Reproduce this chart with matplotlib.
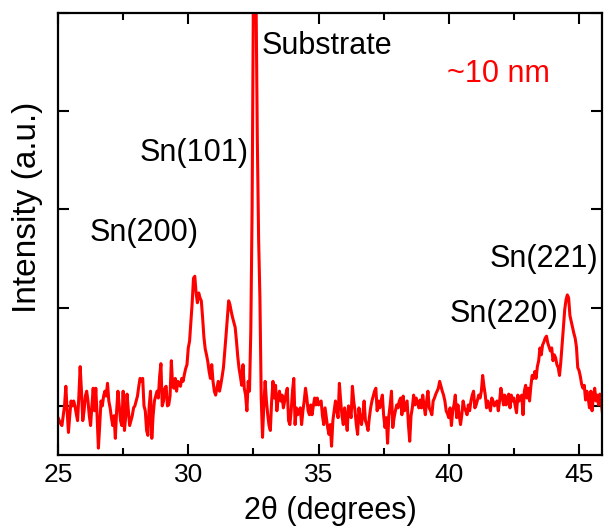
import numpy as np
import matplotlib
matplotlib.use('Agg')
import matplotlib.pyplot as plt
from matplotlib.ticker import MultipleLocator, NullFormatter

plt.rcParams['font.family'] = ['Liberation Sans', 'DejaVu Sans']

# XRD scan, 2theta from 25.00 deg in 0.05 deg steps
two_theta_start = 25.0
two_theta_step = 0.05
intensity = [
    # 25
    88, 85, 82, 80, 90, 100, 120, 95, 73, 90, 105, 100, 105, 100, 92, 85, 110, 140, 115, 85,
    # 26
    95, 110, 115, 105, 90, 80, 100, 118, 95, 118, 90, 57, 80, 105, 100, 110, 115, 110, 123, 105,
    # 27
    98, 88, 80, 90, 67, 95, 115, 100, 85, 80, 115, 75, 90, 112, 95, 80, 85, 90, 98, 100,
    # 28
    105, 110, 120, 128, 125, 128, 100, 95, 75, 70, 100, 115, 67, 90, 105, 110, 115, 108, 130, 143,
    # 29
    100, 105, 118, 120, 100, 101, 110, 146, 120, 118, 128, 115, 125, 122, 120, 128, 125, 132, 138, 142,
    # 30
    159, 166, 185, 205, 230, 232, 215, 205, 215, 210, 207, 190, 170, 158, 152, 145, 135, 128, 142, 125,
    # 31
    115, 111, 118, 125, 115, 122, 130, 139, 155, 172, 190, 207, 203, 196, 190, 185, 180, 166, 150, 138,
    # 32
    130, 121, 142, 118, 111, 95, 125, 115, 176, 300, 520, 580, 520, 372, 270, 210, 108, 68, 101, 125,
    # 33
    105, 91, 80, 75, 105, 125, 108, 121, 95, 108, 115, 105, 111, 98, 105, 112, 118, 85, 81, 95,
    # 34
    115, 128, 81, 98, 91, 95, 98, 81, 95, 105, 118, 108, 95, 91, 101, 91, 100, 108, 101, 108,
    # 35
    101, 103, 105, 90, 81, 98, 88, 78, 71, 81, 59, 85, 95, 105, 95, 88, 123, 105, 90, 81,
    # 36
    98, 88, 75, 100, 95, 88, 120, 105, 95, 81, 71, 98, 88, 81, 91, 105, 85, 81, 75, 88,
    # 37
    98, 105, 110, 115, 118, 95, 105, 98, 105, 111, 90, 78, 88, 62, 90, 101, 115, 78, 88, 95,
    # 38
    101, 98, 105, 108, 91, 110, 95, 100, 105, 81, 64, 90, 98, 111, 101, 108, 103, 98, 106, 98,
    # 39
    111, 100, 91, 105, 115, 98, 95, 91, 105, 108, 112, 115, 118, 125, 120, 115, 111, 105, 95, 92,
    # 40
    88, 98, 80, 95, 101, 111, 88, 101, 90, 81, 91, 105, 98, 95, 91, 101, 95, 105, 111, 115,
    # 41
    98, 101, 106, 111, 108, 115, 131, 120, 111, 98, 105, 100, 95, 108, 105, 100, 102, 105, 95, 105,
    # 42
    118, 110, 101, 111, 101, 106, 112, 98, 111, 105, 108, 100, 93, 111, 105, 108, 111, 91, 115, 121,
    # 43
    108, 118, 105, 120, 131, 128, 135, 128, 140, 146, 159, 152, 162, 165, 169, 171, 164, 160, 156, 159,
    # 44
    146, 152, 149, 142, 139, 131, 145, 162, 180, 198, 208, 213, 210, 192, 186, 180, 174, 169, 160, 139,
    # 45
    136, 130, 122, 118, 121, 106, 115, 108, 98, 115, 95, 110, 118, 105, 111, 101, 112, 105, 92,
]

peak_labels = ['Substrate', 'Sn(101)', 'Sn(200)', 'Sn(221)', 'Sn(220)']
label_pos = [(32.83, 466), (28.15, 357), (26.23, 276), (41.58, 250), (40.04, 194)]
size_note = '~10 nm'

intensity = np.array(intensity, dtype=float)
two_theta = two_theta_start + two_theta_step * np.arange(len(intensity))

fig = plt.figure(figsize=(6.05, 5.27), dpi=100)
ax = fig.add_axes([0.0959, 0.1366, 0.8991, 0.8387])

ax.plot(two_theta, intensity, color='#ff0000', lw=2.2)

ax.set_xlim(25, 45.88)
ax.set_ylim(50, 500)
ax.xaxis.set_major_locator(MultipleLocator(5))
ax.xaxis.set_minor_locator(MultipleLocator(2.5))
ax.yaxis.set_major_locator(MultipleLocator(100))
ax.yaxis.set_major_formatter(NullFormatter())

ax.tick_params(which='both', direction='in', top=True, right=True, width=1.5)
ax.tick_params(which='major', length=8, labelsize=19, pad=6)
ax.tick_params(which='minor', length=5)
for s in ax.spines.values():
    s.set_linewidth(1.6)

ax.set_xlabel('2θ (degrees)', fontsize=22, labelpad=6)
ax.set_ylabel('Intensity (a.u.)', fontsize=24)
ax.yaxis.set_label_coords(-0.028, 0.56)

for txt, (tx, ty) in zip(peak_labels, label_pos):
    ax.text(tx, ty, txt, fontsize=22, ha='left', va='center')
ax.text(39.93, 438, size_note, fontsize=22, color='#ff0000', ha='left', va='center')

fig.savefig('out.png', dpi=100)
